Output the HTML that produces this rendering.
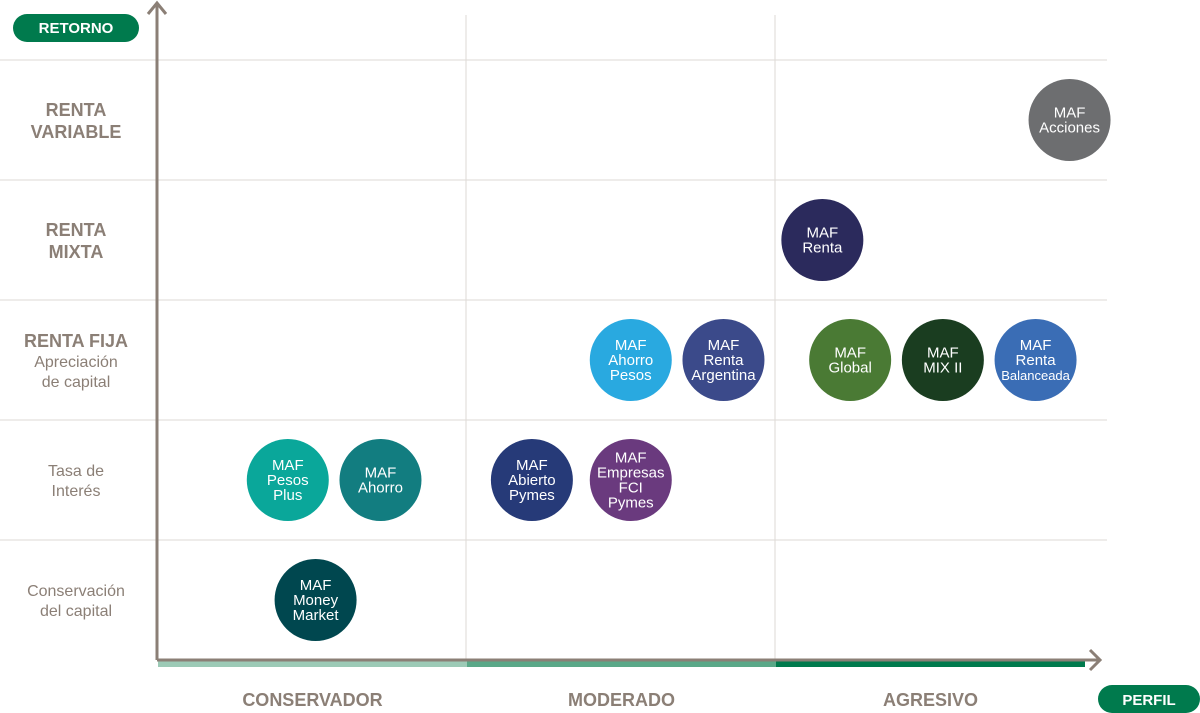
<!DOCTYPE html>
<html><head><meta charset="utf-8">
<style>
html,body{margin:0;padding:0;background:#fff;width:1200px;height:713px;overflow:hidden;font-family:"Liberation Sans",sans-serif;}
</style></head>
<body>
<svg id="chart" width="1200" height="713" viewBox="0 0 1200 713" xmlns="http://www.w3.org/2000/svg" font-family="Liberation Sans, sans-serif">
<g id="grid"></g>
<g id="profile-bar">
  <rect x="158" y="661" width="309" height="6" fill="#9ccab6"/>
  <rect x="467" y="661" width="309" height="6" fill="#5aa888"/>
  <rect x="776" y="661" width="309" height="6" fill="#007a4d"/>
</g>
<g stroke="#8b7f76" stroke-width="3" fill="none">
  <line x1="157" y1="3" x2="157" y2="660"/>
  <polyline points="148,14 157,3 166,14"/>
  <line x1="157" y1="660" x2="1098" y2="660"/>
  <polyline points="1090,650 1100,660 1090,670"/>
</g>
<g>
  <rect x="13" y="14" width="126" height="28" rx="14" fill="#007a4d"/>
  <text x="76" y="33" text-anchor="middle" font-size="15" font-weight="bold" fill="#fff">RETORNO</text>
</g>
<g>
  <rect x="1098" y="685" width="102" height="28" rx="14" fill="#007a4d"/>
  <text x="1149" y="705" text-anchor="middle" font-size="15" font-weight="bold" fill="#fff">PERFIL</text>
</g>
<g id="ylabels" fill="#8b7f76" text-anchor="middle"></g>
<g id="xlabels" fill="#8b7f76" text-anchor="middle" font-size="18" font-weight="bold"></g>
<g id="funds"></g>
</svg>
<script>
const profileCategories = ["CONSERVADOR","MODERADO","AGRESIVO"];
const returnCategories = ["Conservación del capital","Tasa de Interés","Renta Fija","Renta Mixta","Renta Variable"];
const fundNames = [["MAF","Acciones"],["MAF","Renta"],["MAF","Ahorro","Pesos"],["MAF","Renta","Argentina"],["MAF","Global"],["MAF","MIX II"],["MAF","Renta","Balanceada"],["MAF","Pesos","Plus"],["MAF","Ahorro"],["MAF","Abierto","Pymes"],["MAF","Empresas","FCI","Pymes"],["MAF","Money","Market"]];
const fundRisk = [2.95, 2.15, 1.53, 1.83, 2.24, 2.54, 2.84, 0.42, 0.72, 1.21, 1.53, 0.51];
const fundReturn = [4, 3, 2, 2, 2, 2, 2, 1, 1, 1, 1, 0];
const fundColors = ["#6d6e70","#2b2a5c","#29a9e0","#3b4a8a","#4a7a34","#1a3d20","#3a6db5","#0aa79a","#127d80","#263a78","#6a3a7e","#00474f"];

const NS = "http://www.w3.org/2000/svg";
const X0 = 158, COLW = 309, ROWH = 120, YB = 660;
const xScale = v => X0 + v * COLW;
const yScale = v => YB - (v + 0.5) * ROWH;
function mk(tag, attrs, parent){const e=document.createElementNS(NS,tag);for(const k in attrs)e.setAttribute(k,attrs[k]);parent.appendChild(e);return e;}

const grid = document.getElementById('grid');
for (let i = 0; i < returnCategories.length; i++) {
  const y = YB - (i + 1) * ROWH;
  const l = mk('line',{x1:0,y1:y,x2:1107,y2:y,stroke:'#dedad6','stroke-width':1},grid);
  
  
}
for (let i = 1; i < profileCategories.length; i++) {
  const x = X0 + i * COLW - 1;
  const l = mk('line',{x1:x,y1:15,x2:x,y2:YB,stroke:'#dedad6','stroke-width':1},grid);
  
  
}

const xl = document.getElementById('xlabels');
profileCategories.forEach((c,i)=>{
  const t = mk('text',{x:xScale(i+0.5),y:706},xl);
  t.textContent = c;
  
  
});

const yl = document.getElementById('ylabels');
const yLabelLines = [
  [["Conservación",16,false],["del capital",16,false]],
  [["Tasa de",16,false],["Interés",16,false]],
  [["RENTA FIJA",18,true],["Apreciación",16,false],["de capital",16,false]],
  [["RENTA",18,true],["MIXTA",18,true]],
  [["RENTA",18,true],["VARIABLE",18,true]]
];
returnCategories.forEach((c,i)=>{
  const lines = yLabelLines[i];
  const cy = yScale(i);
  const lh = lines.map(l=>l[1]+4);
  const total = lh.reduce((a,b)=>a+b,0);
  let y = cy - total/2;
  const g = mk('g',{},yl);
  
  
  lines.forEach((l,j)=>{
    y += lh[j];
    const t = mk('text',{x:76,y:y-4,'font-size':l[1],'font-weight':l[2]?'bold':'normal'},g);
    t.textContent = l[0];
  });
});

const fg = document.getElementById('funds');
fundNames.forEach((name,i)=>{
  const cx = xScale(fundRisk[i]), cy = yScale(fundReturn[i]);
  const g = mk('g',{},fg);
  
  
  mk('circle',{cx:cx,cy:cy,r:41,fill:fundColors[i]},g);
  const n = name.length, lh = 15;
  name.forEach((s,j)=>{
    const fs = s.length > 9 ? 13 : 15;
    const t = mk('text',{x:cx,y:cy+(j-(n-1)/2)*lh+5,'text-anchor':'middle','font-size':fs,fill:'#fff'},g);
    t.textContent = s;
  });
});
</script>
</body></html>
